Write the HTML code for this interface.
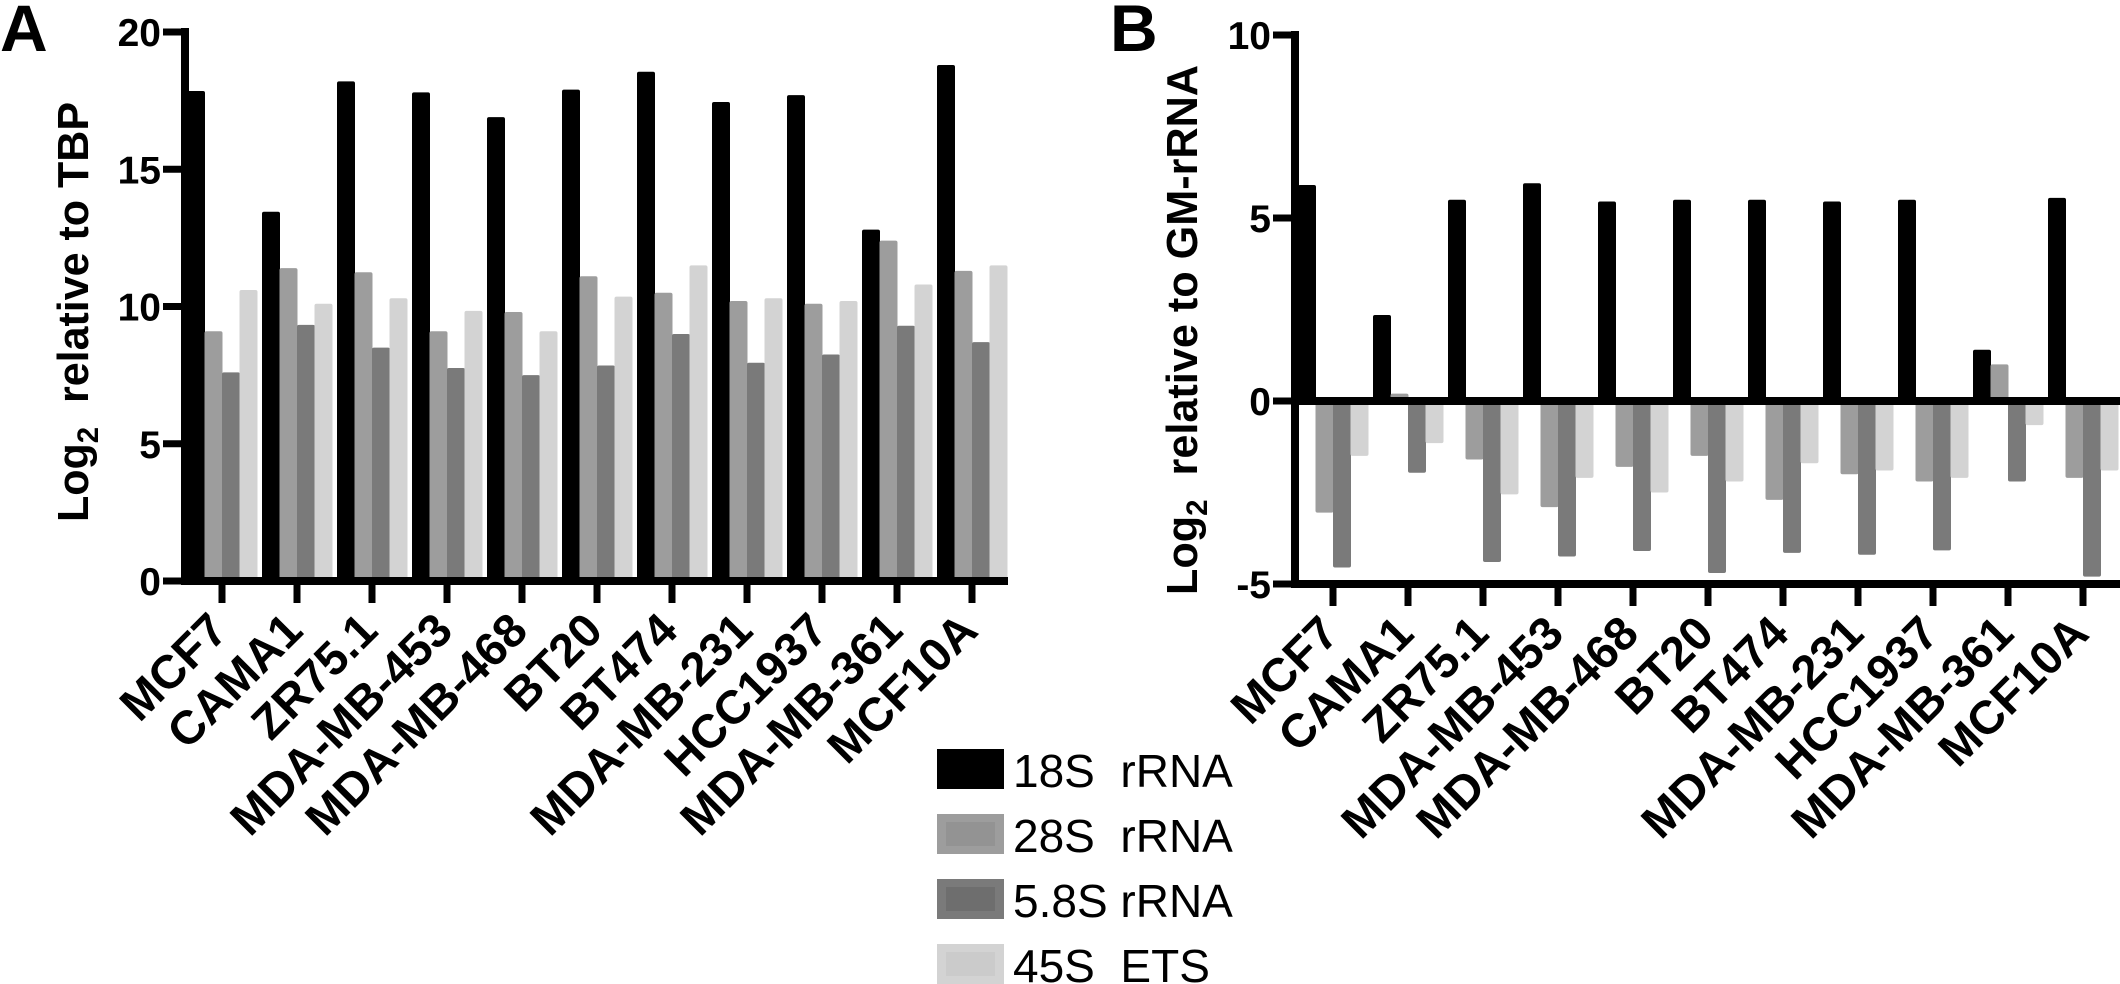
<!DOCTYPE html>
<html><head><meta charset="utf-8"><style>
html,body{margin:0;padding:0;background:#fff;}
svg{display:block;font-family:"Liberation Sans",Arial,sans-serif;}
</style></head><body>
<svg id="fig" width="2120" height="984" viewBox="0 0 2120 984" xmlns="http://www.w3.org/2000/svg">
<g id="panelA"></g>
<g id="panelB"></g>
<g id="legend"></g>
</svg>
<script>
const categories = ["MCF7","CAMA1","ZR75.1","MDA-MB-453","MDA-MB-468","BT20","BT474","MDA-MB-231","HCC1937","MDA-MB-361","MCF10A"];
const seriesNames = ["18S rRNA","28S rRNA","5.8S rRNA","45S ETS"];
const seriesLegendText = ["18S\u00a0 rRNA","28S\u00a0 rRNA","5.8S rRNA","45S\u00a0 ETS"];
const seriesColors = ["#000000","#9d9d9d","#7a7a7a","#d3d3d3"];
const seriesInner = ["#000000","#939393","#6e6e6e","#cbcbcb"];
// Panel A: Log2 relative to TBP
const a18S = [17.85,13.45,18.2,17.8,16.9,17.9,18.55,17.45,17.7,12.8,18.8];
const a28S = [9.1,11.4,11.25,9.1,9.8,11.1,10.5,10.2,10.1,12.4,11.3];
const a58S = [7.6,9.33,8.5,7.76,7.5,7.85,9.0,7.95,8.25,9.3,8.7];
const a45S = [10.6,10.1,10.3,9.84,9.1,10.36,11.5,10.3,10.2,10.8,11.5];
const aTicks = [0,5,10,15,20];
const aTickLabels = ["0","5","10","15","20"];
// Panel B: Log2 relative to GM-rRNA
const b18S = [5.9,2.35,5.5,5.95,5.45,5.5,5.5,5.45,5.5,1.4,5.55];
const b28S = [-3.05,0.2,-1.6,-2.9,-1.8,-1.5,-2.7,-2.0,-2.2,1.0,-2.1];
const b58S = [-4.55,-1.96,-4.4,-4.25,-4.1,-4.7,-4.15,-4.2,-4.08,-2.2,-4.8];
const b45S = [-1.5,-1.15,-2.55,-2.1,-2.5,-2.2,-1.7,-1.9,-2.1,-0.66,-1.9];
const bTicks = [-5,0,5,10];
const bTickLabels = ["-5","0","5","10"];

const NS = "http://www.w3.org/2000/svg";
function mk(tag, attrs, parent){
  const e = document.createElementNS(NS, tag);
  for (const k in attrs) e.setAttribute(k, attrs[k]);
  if (parent) parent.appendChild(e);
  return e;
}
const BW = 17.5, STEP = 75;

function drawPanel(g, cfg){
  const y = v => cfg.y0 - (v - cfg.base) * cfg.ppu;
  const xc = i => cfg.firstTick + STEP * i;
  const series = cfg.series;
  series.forEach((vals, s) => {
    vals.forEach((v, i) => {
      const left = xc(i) - 2*BW + s*BW;
      const yz = y(cfg.zero), yv = y(v);
      const r = mk("rect", {x:left, y:Math.min(yz,yv), width:BW+0.5, height:Math.max(1,Math.abs(yz-yv)), fill:seriesColors[s], rx:2}, g);
      
      
    });
  });
  const ax = mk("line", {x1:cfg.axisX, x2:cfg.axisX, y1:y(cfg.yMax)-4, y2:cfg.xAxisY+4, stroke:"#000","stroke-width":8}, g);
  
  
  cfg.ticks.forEach((t, k) => {
    mk("line", {x1:cfg.axisX-22, x2:cfg.axisX, y1:y(t), y2:y(t), stroke:"#000","stroke-width":7}, g);
    const tl = mk("text", {x:cfg.axisX-24, y:y(t)+14, "text-anchor":"end", "font-size":39, "font-weight":"bold"}, g);
    tl.textContent = cfg.tickLabels[k];
    
    
  });
  const zl = mk("line", {x1:cfg.axisX-4, x2:cfg.xEnd, y1:y(cfg.zero), y2:y(cfg.zero), stroke:"#000","stroke-width":8}, g);
  
  
  if (cfg.xAxisY !== y(cfg.zero)) {
    const xl = mk("line", {x1:cfg.axisX-4, x2:cfg.xEnd, y1:cfg.xAxisY, y2:cfg.xAxisY, stroke:"#000","stroke-width":8}, g);
    
    
  }
  categories.forEach((c, i) => {
    mk("line", {x1:xc(i), x2:xc(i), y1:cfg.xAxisY, y2:cfg.xAxisY+22, stroke:"#000","stroke-width":7}, g);
    const tx = xc(i) + 8, ty = cfg.xAxisY + 52;
    const lab = mk("text", {x:tx, y:ty, "text-anchor":"end", "font-size":47, "font-weight":"bold", transform:`rotate(-45 ${tx} ${ty})`}, g);
    lab.textContent = c;
    
    
  });
  const tt = mk("text", {x:cfg.titleX, y:cfg.titleY, "text-anchor":"middle", "font-size":44, "font-weight":"bold", textLength:cfg.titleLen, lengthAdjust:"spacingAndGlyphs", transform:`rotate(-90 ${cfg.titleX} ${cfg.titleY})`}, g);
  
  
  const t1 = mk("tspan", {}, tt); t1.textContent = "Log";
  const t2 = mk("tspan", {dy:10, "font-size":30}, tt); t2.textContent = "2";
  const t3 = mk("tspan", {dy:-10}, tt); t3.textContent = "\u00a0 " + cfg.title;
  const pl = mk("text", {x:cfg.letterX, y:51, "font-size":66, "font-weight":"bold"}, g);
  pl.textContent = cfg.letter;
  
  
}

drawPanel(document.getElementById("panelA"), {
  id:"a", series:[a18S,a28S,a58S,a45S], base:0, zero:0, y0:581, ppu:27.45, yMax:20,
  firstTick:222, axisX:185, xEnd:1008, xAxisY:581, ticks:aTicks, tickLabels:aTickLabels,
  title:"relative to TBP", titleX:88, titleY:312, titleLen:420, letter:"A", letterX:0
});
drawPanel(document.getElementById("panelB"), {
  id:"b", series:[b18S,b28S,b58S,b45S], base:0, zero:0, y0:401, ppu:36.6, yMax:10,
  firstTick:1333, axisX:1295, xEnd:2120, xAxisY:584, ticks:bTicks, tickLabels:bTickLabels,
  title:"relative to GM-rRNA", titleX:1197, titleY:330, titleLen:530, letter:"B", letterX:1110
});

const lg = document.getElementById("legend");
seriesLegendText.forEach((name, s) => {
  const yy = 749 + s*65;
  const item = mk("g", {}, lg);
  
  
  mk("rect", {x:937, y:yy, width:67, height:40, fill:seriesColors[s]}, item);
  if (s > 0) mk("rect", {x:946, y:yy+8, width:49, height:24, fill:seriesInner[s]}, item);
  const t = mk("text", {x:1013, y:yy+38, "font-size":46}, item);
  t.textContent = name;
});
</script>
</body></html>
